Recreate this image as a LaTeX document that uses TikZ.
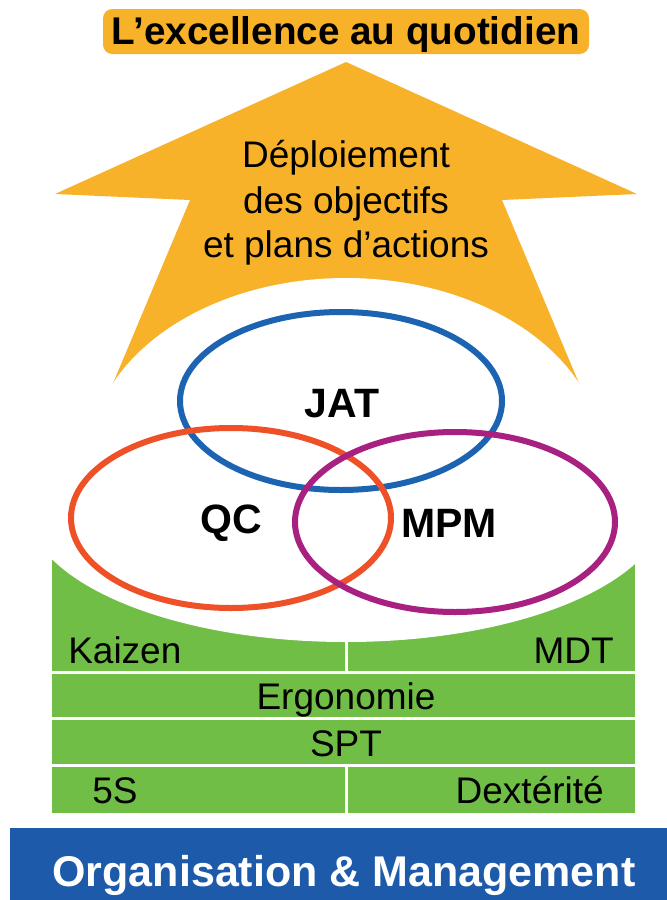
\documentclass[tikz,border=0pt]{standalone}
\usepackage{fontspec}
\setmainfont{Liberation Sans}
\definecolor{aorange}{RGB}{248,178,42}
\definecolor{agreen}{RGB}{112,190,70}
\definecolor{abanner}{RGB}{30,90,170}
\definecolor{ablue}{RGB}{28,100,178}
\definecolor{ared}{RGB}{238,80,40}
\definecolor{apurple}{RGB}{168,32,128}
\tikzset{
  txt/.style={inner sep=0pt, text=black, font=\fontsize{27.75pt}{30pt}\selectfont},
  ttl/.style={inner sep=0pt, text=black, font=\fontsize{29pt}{30pt}\selectfont\bfseries},
  venn/.style={inner sep=0pt, text=black, font=\fontsize{30.75pt}{32pt}\selectfont\bfseries},
  ring/.style={line width=4.5pt},
  bantxt/.style={inner sep=0pt, text=white, font=\fontsize{32.25pt}{34pt}\selectfont\bfseries}
}
\begin{document}
\begin{tikzpicture}[x=0.75pt,y=-0.75pt]
\useasboundingbox (0,0) rectangle (667,900);
\fill[white] (0,0) rectangle (667,900);
% title
\fill[aorange, rounded corners=7pt] (103,9) rectangle (589,54);
\node[ttl, anchor=base] (title) at (346,44) {L’excellence au quotidien};
% arrow
\fill[aorange] (346,62) -- (637,194) -- (502,200) -- (586,400) -- (106,400) -- (190,200) -- (55,194) -- cycle;
\fill[white] (346,460) ellipse [x radius=257, y radius=182];
\node[txt, anchor=base] (d1) at (346,167) {Déploiement};
\node[txt, anchor=base] (d2) at (346,213) {des objectifs};
\node[txt, anchor=base] (d3) at (346,257) {et plans d’actions};
% green block
\fill[agreen] (52,560) rectangle (344.5,671);
\fill[agreen] (347.5,560) rectangle (635,671);
\begin{scope}
\clip (52,540) rectangle (635,671);
\fill[white] (346,505) ellipse [x radius=320, y radius=137];
\end{scope}
\fill[agreen] (52,674) rectangle (635,717);
\fill[agreen] (52,720) rectangle (635,764);
\fill[agreen] (52,767) rectangle (344.5,813);
\fill[agreen] (347.5,767) rectangle (635,813);
\node[txt, anchor=base west] (kaizen) at (68,663) {Kaizen};
\node[txt, anchor=base east] (mdt) at (614,663) {MDT};
\node[txt, anchor=base] (ergo) at (346,709) {Ergonomie};
\node[txt, anchor=base] (spt) at (346,756) {SPT};
\node[txt, anchor=base west] (fives) at (92,803) {5S};
\node[txt, anchor=base east] (dext) at (604,803) {Dextérité};
% venn
\draw[ablue, ring] (341,401) ellipse [x radius=161, y radius=89];
\draw[ared, ring] (231,518) ellipse [x radius=160, y radius=90];
\draw[apurple, ring] (455,522) ellipse [x radius=160, y radius=90];
\node[venn, anchor=base] (jat) at (342,417) {JAT};
\node[venn, anchor=base] (qc) at (231,533) {QC};
\node[venn, anchor=base] (mpm) at (449,537) {MPM};
% banner
\fill[abanner] (10,828) rectangle (667,900);
\node[bantxt, anchor=base] (org) at (344,886) {Organisation \& Management};
\end{tikzpicture}
\end{document}
